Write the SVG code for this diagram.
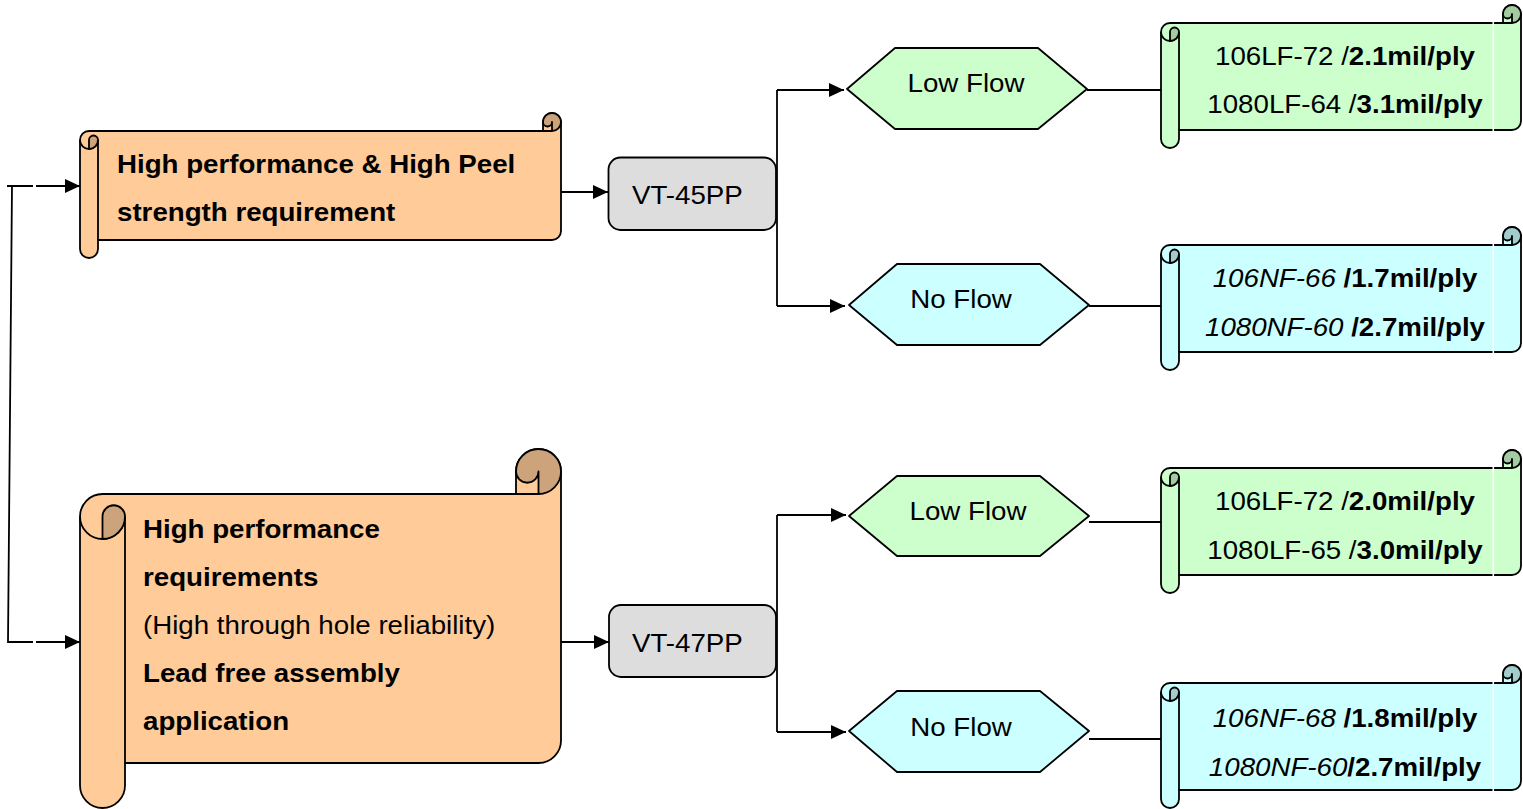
<svg xmlns="http://www.w3.org/2000/svg" width="1523" height="809" viewBox="0 0 1523 809">
<style>
.o{fill:#FFCC99}.od{fill:#CCA37A}.g{fill:#CCFFCC}.gd{fill:#A3CCA3}.c{fill:#CCFFFF}.cd{fill:#A3CCCC}.gr{fill:#DDDDDD}
.s{stroke:#000;stroke-width:1.8;stroke-linejoin:round}
.n{fill:none;stroke:#000;stroke-width:1.8;stroke-linejoin:round}
.w{fill:#FFFFFF}
text{font-family:"Liberation Sans",Arial,sans-serif;font-size:26px;fill:#000}
.b{font-weight:bold}.i{font-style:italic}
.ln{fill:none;stroke:#000;stroke-width:1.8}
</style>
<defs>
<marker id="arr" viewBox="0 0 15 14" refX="15" refY="7" markerWidth="15" markerHeight="14" orient="auto" markerUnits="userSpaceOnUse"><path d="M0,0 L15,7 L0,14 Z" fill="#000"/></marker>
</defs>
<rect width="1523" height="809" fill="#FFFFFF"/>

<g id="connectors">
<path class="ln" d="M7,186 L33,186 M12,186 L8,642 L33,642"/>
<path class="ln" d="M36,186 L80,186" marker-end="url(#arr)"/>
<path class="ln" d="M36,642 L80,642" marker-end="url(#arr)"/>
<path class="ln" d="M561,192 L608,192" marker-end="url(#arr)"/>
<path class="ln" d="M561,642 L609,642" marker-end="url(#arr)"/>
<path class="ln" d="M777,90 L777,306"/>
<path class="ln" d="M777,90 L844,90" marker-end="url(#arr)"/>
<path class="ln" d="M777,306 L845,306" marker-end="url(#arr)"/>
<path class="ln" d="M777,515 L777,732"/>
<path class="ln" d="M777,515 L846,515" marker-end="url(#arr)"/>
<path class="ln" d="M777,732 L846,732" marker-end="url(#arr)"/>
<path class="ln" d="M1087,90 L1161,90 M1089,306 L1161,306 M1089,522 L1161,522 M1089,739 L1161,739"/>
</g>

<g id="req1">
<path class="o s" d="M80,140 A9 9 0 0 1 89,131 L543,131 L543,122 A9 9 0 0 1 561,122 L561,231 A9 9 0 0 1 552,240 L98,240 L98,249 A9 9 0 0 1 80,249 Z"/>
<path class="n" d="M543,131 L552,131 M98,140 L98,240 M80,140 A9 9 0 0 0 98,140"/>
<path class="od s" d="M552,131 A9 9 0 1 0 543,122 A4.5 4.5 0 0 0 552,122 Z"/>
<path class="od s" d="M89,149 A9 9 0 0 0 98,140 A4.5 4.5 0 0 0 89,140 Z"/>
<text class="b" transform="translate(117,173) scale(1.065,1)">High performance &amp; High Peel</text>
<text class="b" transform="translate(117,221) scale(1.065,1)">strength requirement</text>
</g>

<g id="req2">
<path class="o s" d="M80,516.5 A22.5 22.5 0 0 1 102.5,494 L516,494 L516,471.5 A22.5 22.5 0 0 1 561,471.5 L561,740.5 A22.5 22.5 0 0 1 538.5,763 L125,763 L125,785.5 A22.5 22.5 0 0 1 80,785.5 Z"/>
<path class="n" d="M516,494 L538.5,494 M125,516.5 L125,763 M80,516.5 A22.5 22.5 0 0 0 125,516.5"/>
<path class="od s" d="M538.5,494 A22.5 22.5 0 1 0 516,471.5 A11.25 11.25 0 0 0 538.5,471.5 Z"/>
<path class="od s" d="M102.5,539 A22.5 22.5 0 0 0 125,516.5 A11.25 11.25 0 0 0 102.5,516.5 Z"/>
<text class="b" transform="translate(143,538) scale(1.065,1)">High performance</text>
<text class="b" transform="translate(143,586) scale(1.065,1)">requirements</text>
<text transform="translate(143,634) scale(1.065,1)">(High through hole reliability)</text>
<text class="b" transform="translate(143,682) scale(1.065,1)">Lead free assembly</text>
<text class="b" transform="translate(143,730) scale(1.065,1)">application</text>
</g>

<g id="vt45pp">
<rect class="gr s" x="608.5" y="157.5" width="167.5" height="72.5" rx="12"/>
<text transform="translate(632,204) scale(1.065,1)">VT-45PP</text>
</g>

<g id="vt47pp">
<rect class="gr s" x="609" y="605" width="167" height="72" rx="12"/>
<text transform="translate(632,652) scale(1.065,1)">VT-47PP</text>
</g>

<g id="lowflow1">
<polygon class="g s" points="847,89 895,48 1038,48 1087,89 1038,129 895,129"/>
<text text-anchor="middle" transform="translate(966,92) scale(1.065,1)">Low Flow</text>
</g>
<g id="noflow1">
<polygon class="c s" points="849,305 897,264 1040,264 1089,305 1040,345 897,345"/>
<text text-anchor="middle" transform="translate(961,308) scale(1.065,1)">No Flow</text>
</g>
<g id="lowflow2">
<polygon class="g s" points="849,516 897,476 1040,476 1089,516 1040,556 897,556"/>
<text text-anchor="middle" transform="translate(968,520) scale(1.065,1)">Low Flow</text>
</g>
<g id="noflow2">
<polygon class="c s" points="849,731 897,691 1040,691 1089,731 1040,772 897,772"/>
<text text-anchor="middle" transform="translate(961,736) scale(1.065,1)">No Flow</text>
</g>

<g id="spec1" transform="translate(1161,5)">
<path class="g s" d="M0,27 A9 9 0 0 1 9,18 L342,18 L342,9 A9 9 0 0 1 360,9 L360,116 A9 9 0 0 1 351,125 L18,125 L18,134 A9 9 0 0 1 0,134 Z"/>
<path class="n" d="M342,18 L351,18 M18,27 L18,125 M0,27 A9 9 0 0 0 18,27"/>
<path class="gd s" d="M351,18 A9 9 0 1 0 342,9 A4.5 4.5 0 0 0 351,9 Z"/>
<path class="gd s" d="M9,36 A9 9 0 0 0 18,27 A4.5 4.5 0 0 0 9,27 Z"/>
<rect class="w" x="331.5" y="16.5" width="1.6" height="110"/>
<text text-anchor="middle" transform="translate(184,60) scale(1.065,1)">106LF-72 /<tspan class="b">2.1mil/ply</tspan></text>
<text text-anchor="middle" transform="translate(184,108) scale(1.065,1)">1080LF-64 /<tspan class="b">3.1mil/ply</tspan></text>
</g>

<g id="spec2" transform="translate(1161,227)">
<path class="c s" d="M0,27 A9 9 0 0 1 9,18 L342,18 L342,9 A9 9 0 0 1 360,9 L360,116 A9 9 0 0 1 351,125 L18,125 L18,134 A9 9 0 0 1 0,134 Z"/>
<path class="n" d="M342,18 L351,18 M18,27 L18,125 M0,27 A9 9 0 0 0 18,27"/>
<path class="cd s" d="M351,18 A9 9 0 1 0 342,9 A4.5 4.5 0 0 0 351,9 Z"/>
<path class="cd s" d="M9,36 A9 9 0 0 0 18,27 A4.5 4.5 0 0 0 9,27 Z"/>
<rect class="w" x="331.5" y="16.5" width="1.6" height="110"/>
<text text-anchor="middle" transform="translate(184,60) scale(1.065,1)"><tspan class="i">106NF-66 </tspan><tspan class="b">/1.7mil/ply</tspan></text>
<text text-anchor="middle" transform="translate(184,109) scale(1.065,1)"><tspan class="i">1080NF-60 </tspan><tspan class="b">/2.7mil/ply</tspan></text>
</g>

<g id="spec3" transform="translate(1161,450)">
<path class="g s" d="M0,27 A9 9 0 0 1 9,18 L342,18 L342,9 A9 9 0 0 1 360,9 L360,116 A9 9 0 0 1 351,125 L18,125 L18,134 A9 9 0 0 1 0,134 Z"/>
<path class="n" d="M342,18 L351,18 M18,27 L18,125 M0,27 A9 9 0 0 0 18,27"/>
<path class="gd s" d="M351,18 A9 9 0 1 0 342,9 A4.5 4.5 0 0 0 351,9 Z"/>
<path class="gd s" d="M9,36 A9 9 0 0 0 18,27 A4.5 4.5 0 0 0 9,27 Z"/>
<rect class="w" x="331.5" y="16.5" width="1.6" height="110"/>
<text text-anchor="middle" transform="translate(184,60) scale(1.065,1)">106LF-72 /<tspan class="b">2.0mil/ply</tspan></text>
<text text-anchor="middle" transform="translate(184,109) scale(1.065,1)">1080LF-65 /<tspan class="b">3.0mil/ply</tspan></text>
</g>

<g id="spec4" transform="translate(1161,665)">
<path class="c s" d="M0,27 A9 9 0 0 1 9,18 L342,18 L342,9 A9 9 0 0 1 360,9 L360,116 A9 9 0 0 1 351,125 L18,125 L18,134 A9 9 0 0 1 0,134 Z"/>
<path class="n" d="M342,18 L351,18 M18,27 L18,125 M0,27 A9 9 0 0 0 18,27"/>
<path class="cd s" d="M351,18 A9 9 0 1 0 342,9 A4.5 4.5 0 0 0 351,9 Z"/>
<path class="cd s" d="M9,36 A9 9 0 0 0 18,27 A4.5 4.5 0 0 0 9,27 Z"/>
<rect class="w" x="331.5" y="16.5" width="1.6" height="110"/>
<text text-anchor="middle" transform="translate(184,62) scale(1.065,1)"><tspan class="i">106NF-68 </tspan><tspan class="b">/1.8mil/ply</tspan></text>
<text text-anchor="middle" transform="translate(184,111) scale(1.065,1)"><tspan class="i">1080NF-60</tspan><tspan class="b">/2.7mil/ply</tspan></text>
</g>
</svg>
